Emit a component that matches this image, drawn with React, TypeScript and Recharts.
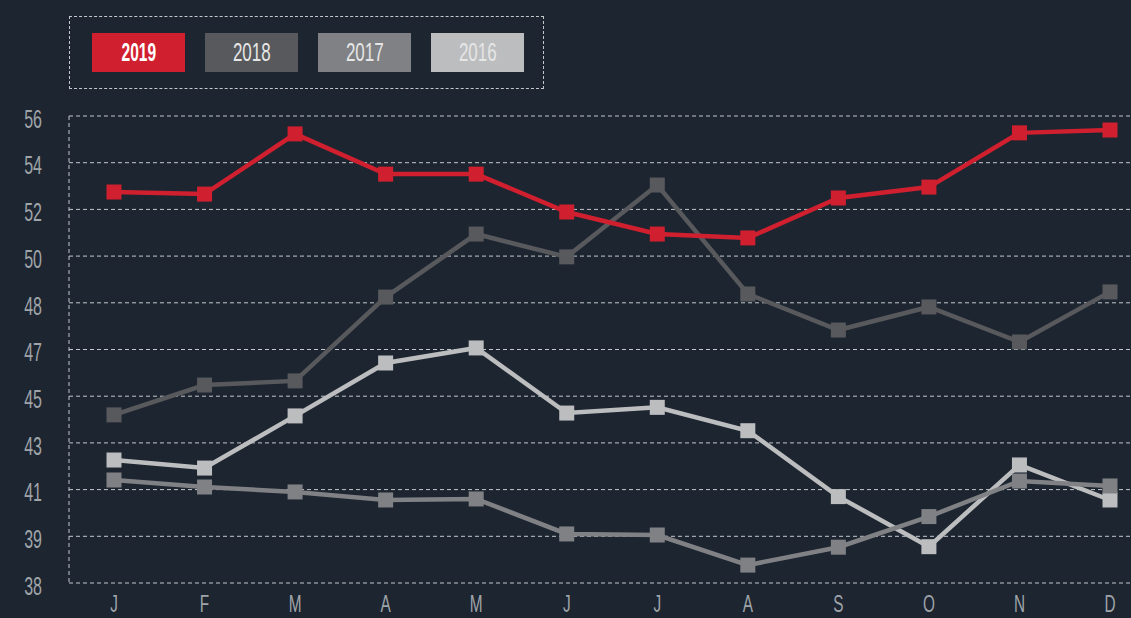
import React from 'react';
import { LineChart, Line, XAxis, YAxis, CartesianGrid } from 'recharts';

const months = ['J', 'F', 'M', 'A', 'M', 'J', 'J', 'A', 'S', 'O', 'N', 'D'];

const values2019 = [53.07, 52.99, 55.31, 53.76, 53.76, 52.3, 51.45, 51.3, 52.84, 53.26, 55.35, 55.46];
const values2018 = [44.48, 45.63, 45.79, 49.02, 51.45, 50.57, 53.34, 49.14, 47.75, 48.64, 47.29, 49.22];
const values2017 = [41.97, 41.7, 41.51, 41.2, 41.24, 39.89, 39.85, 38.69, 39.38, 40.56, 41.93, 41.74];
const values2016 = [42.74, 42.43, 44.44, 46.48, 47.06, 44.55, 44.77, 43.87, 41.33, 39.4, 42.55, 41.2];

const yTicks = [38, 39.8, 41.6, 43.4, 45.2, 47, 48.8, 50.6, 52.4, 54.2, 56];
const yTickLabels = ['38', '39', '41', '43', '45', '47', '48', '50', '52', '54', '56'];

const series = [
  { key: 'y2016', name: '2016', values: values2016, color: '#bcbdbf' },
  { key: 'y2017', name: '2017', values: values2017, color: '#808185' },
  { key: 'y2018', name: '2018', values: values2018, color: '#58595c' },
  { key: 'y2019', name: '2019', values: values2019, color: '#d0202f' }
];

const legendOrder = ['2019', '2018', '2017', '2016'];

const data = months.map((m, i) => {
  const row: any = { month: m, idx: i };
  series.forEach(s => {
    row[s.key] = s.values[i];
  });
  return row;
});

const FONT = "'Liberation Sans', Arial, sans-serif";
const BG = '#1d2530';
const GRID = '#c4c8cc';
const TICK = '#9fa4a9';
// no condensed font installed, so squeeze the text horizontally
const SQUEEZE = 0.64;

const squareDot = (color: string) => (props: any) => {
  const { cx, cy, index } = props;
  if (cx == null || cy == null) return <g key={index} />;
  return <rect key={index} x={cx - 7.5} y={cy - 7.5} width={15} height={15} fill={color} />;
};

const XTick = (props: any) => {
  const { x, y, payload } = props;
  return (
    <g transform={`translate(${x},${y})`}>
      <text transform={`scale(${SQUEEZE},1)`} textAnchor="middle" dy="0.71em" fill={TICK} fontSize={24} fontFamily={FONT}>
        {months[payload.value]}
      </text>
    </g>
  );
};

const YTick = (props: any) => {
  const { x, y, payload } = props;
  return (
    <g transform={`translate(${x},${y + 3})`}>
      <text transform={`scale(${SQUEEZE},1)`} textAnchor="end" dy="0.35em" fill={TICK} fontSize={25} fontFamily={FONT}>
        {yTickLabels[yTicks.indexOf(payload.value)]}
      </text>
    </g>
  );
};

export default function App() {
  return (
    <div
      style={{
        position: 'absolute',
        left: 0,
        top: 0,
        width: 1131,
        height: 618,
        overflow: 'hidden',
        background: BG,
        fontFamily: FONT
      }}
    >
      {/* legend box */}
      <div
        style={{
          position: 'absolute',
          left: 69,
          top: 16,
          width: 473,
          height: 71,
          border: `1px dashed ${GRID}`
        }}
      >
        {legendOrder.map((name, i) => {
          const s = series.find(x => x.name === name)!;
          return (
            <div
              key={name}
              style={{
                position: 'absolute',
                left: 22 + i * 113,
                top: 16,
                width: 93,
                height: 39,
                background: s.color,
                color: name === '2019' ? '#ffffff' : '#e6e6e6',
                fontWeight: name === '2019' ? 'bold' : 'normal',
                fontSize: 25,
                lineHeight: '39px',
                textAlign: 'center'
              }}
            >
              <span style={{ display: 'inline-block', transform: `scaleX(${name === '2019' ? 0.62 : 0.68})` }}>{name}</span>
            </div>
          );
        })}
      </div>

      <LineChart
        width={1155}
        height={618}
        data={data}
        margin={{ top: 116, right: 0, bottom: 0, left: 0 }}
      >
        <CartesianGrid vertical={false} stroke={GRID} strokeDasharray="4 3" />
        <XAxis
          dataKey="idx"
          type="category"
          height={35}
          padding={{ left: 45, right: 45 }}
          axisLine={false}
          tickLine={false}
          tickSize={0}
          tickMargin={12}
          interval={0}
          tick={<XTick />}
        />
        <YAxis
          width={69}
          domain={[38, 56]}
          ticks={yTicks}
          interval={0}
          allowDataOverflow
          axisLine={{ stroke: GRID, strokeDasharray: '4 3' }}
          tickLine={false}
          tickSize={0}
          tickMargin={27}
          tick={<YTick />}
        />
        {series.map(s => (
          <Line
            key={s.key}
            type="linear"
            dataKey={s.key}
            name={s.name}
            stroke={s.color}
            strokeWidth={4.5}
            dot={squareDot(s.color)}
            activeDot={false}
            isAnimationActive={false}
          />
        ))}
      </LineChart>
    </div>
  );
}
